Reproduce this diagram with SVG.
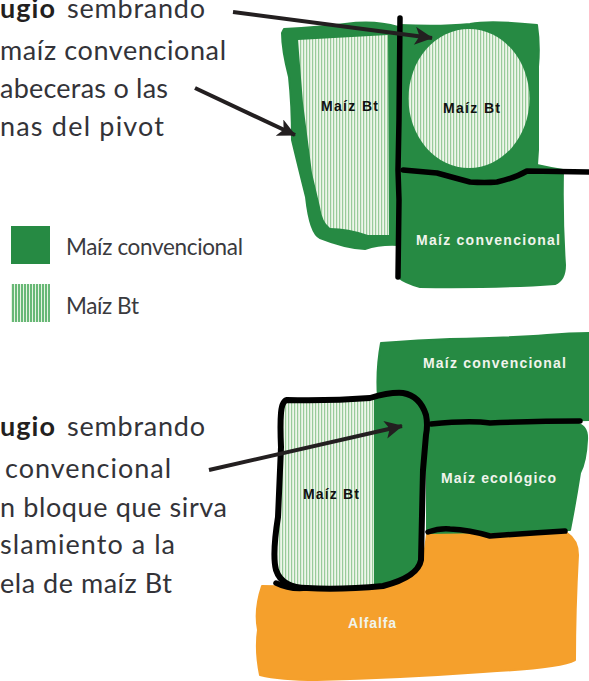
<svg xmlns="http://www.w3.org/2000/svg" width="589" height="681" viewBox="0 0 589 681">
<style>
.g{fill:#268a43;stroke:#268a43;stroke-width:2;stroke-linejoin:round}
.o{fill:#f5a02c;stroke:#f5a02c;stroke-width:2;stroke-linejoin:round}
.h{fill:url(#hatch)}
.k{fill:none;stroke:#000;stroke-linejoin:round;stroke-linecap:round}
.a{stroke:#231f20;stroke-width:4;fill:none;marker-end:url(#ah)}
.t{font-family:"Lato","Open Sans",sans-serif;font-size:27px;fill:#333338}
.l{font-family:"Lato","Open Sans",sans-serif;font-size:22.5px;fill:#3a3a3e}
.b{font-weight:700;fill:#231f20}
.w{font-family:"Liberation Sans",Arial,sans-serif;font-weight:700;font-size:14px;fill:#f0f4ec}
.d{font-family:"Liberation Sans",Arial,sans-serif;font-weight:700;font-size:14px;fill:#111}
</style>
<defs>
<pattern id="hatch" width="3" height="10" patternUnits="userSpaceOnUse"><rect width="3" height="10" fill="#eef6ea"/><rect width="1.2" height="10" fill="#98cb9a"/></pattern>
<pattern id="lhatch" width="3" height="10" patternUnits="userSpaceOnUse"><rect width="3" height="10" fill="#e6f3e2"/><rect width="2" height="10" fill="#68b877"/></pattern>
<marker id="ah" viewBox="0 0 10 10" refX="9.5" refY="5" markerUnits="userSpaceOnUse" markerWidth="22" markerHeight="18" orient="auto"><path d="M0 0L10 5L0 10L2.5 5Z" fill="#231f20"/></marker>
</defs>

<g id="top-text">
<text class="t" y="18"><tspan x="0" class="b" textLength="55">ugio</tspan><tspan x="67" textLength="138">sembrando</tspan></text>
<text class="t" x="0" y="60" textLength="226">maíz convencional</text>
<text class="t" x="0" y="98" textLength="168">abeceras o las</text>
<text class="t" x="0" y="136" textLength="164">nas del pivot</text>
</g>

<g id="legend">
<rect x="11" y="226" width="39" height="38" fill="#268a43"/>
<text class="l" x="66" y="255" textLength="177">Maíz convencional</text>
<rect x="11" y="284" width="39" height="38" fill="url(#lhatch)"/>
<text class="l" x="66" y="314" textLength="73">Maíz Bt</text>
</g>

<g id="bottom-text">
<text class="t" y="436"><tspan x="0" class="b" textLength="55">ugio</tspan><tspan x="67" textLength="138">sembrando</tspan></text>
<text class="t" x="5" y="478" textLength="166">convencional</text>
<text class="t" x="0" y="517" textLength="227">n bloque que sirva</text>
<text class="t" x="0" y="554" textLength="175">slamiento a la</text>
<text class="t" x="0" y="593" textLength="172">ela de maíz Bt</text>
</g>

<g id="field-top-left">
<path class="g" d="M284 29Q320 27 345 24Q375 20 398 27L398 245Q380 244 365 249Q345 248 320 238Q310 234 306 197Q298 165 292 140Q292 105 289 77Q282 50 282 33Z"/>
<path class="h" d="M298 40L388 35L389 235L368 235Q348 228 330 228Q322 222 320 207L312 173L303 103Z"/>
<text class="d" x="321" y="111" textLength="57">Maíz Bt</text>
</g>

<g id="field-top-right">
<path class="g" d="M400 25Q440 27 470 24Q490 20 537 25Q540 45 538 67Q538 120 538 150L537 165Q550 168 563 170Q562 220 565 265Q565 280 555 284Q500 288 420 287Q405 283 398 277Z"/>
<ellipse cx="469" cy="98.5" rx="60.5" ry="69.5" fill="url(#hatch)"/>
<text class="d" x="443" y="113" textLength="57">Maíz Bt</text>
<text class="w" x="416" y="245" textLength="144">Maíz convencional</text>
</g>

<g id="field-bottom-conv">
<path class="g" d="M381 343Q420 340 450 339Q510 338 547 335Q570 333 589 333L589 420L430 424L378 398Q376 370 381 343Z"/>
<text class="w" x="423" y="368" textLength="143">Maíz convencional</text>
</g>

<g id="field-bottom-eco">
<path class="g" d="M427 423L575 423Q588 425 587 440Q586 462 580 473Q575 505 570 530L427 534Z"/>
<text class="w" x="441" y="483" textLength="115">Maíz ecológico</text>
</g>

<g id="field-alfalfa">
<path class="o" d="M262 586L377 588L423 563L427 535L567 533Q578 540 578 555Q575 610 575 660Q560 668 483 672Q400 678 317 680Q280 680 260 675Q255 650 258 630Q254 610 262 586Z"/>
<text class="w" x="348" y="628" textLength="48">Alfalfa</text>
</g>

<g id="field-bottom-bt">
<path class="h" d="M282 402L375 398L375 587L290 587Q276 578 276 560Z"/>
<path class="g" d="M375 398Q390 394 405 394Q422 398 427 420L423 470L420 560Q415 578 375 586Z"/>
<text class="d" x="303" y="499" textLength="56">Maíz Bt</text>
</g>

<g id="connectors">
<path class="k" stroke-width="5.5" d="M400 18L399 120L398 170L399 200L398 277"/>
<path class="k" stroke-width="5.5" d="M403 170Q425 172 437 173Q455 178 470 182Q485 183 497 182Q515 178 527 171L589 172"/>
<path class="k" stroke-width="6" d="M287 400Q330 401 370 398Q390 392 403 393Q420 396 426 415Q428 425 426 435L423 470L421 560Q418 577 383 586Q340 590 307 588Q282 588 276 570Q272 555 278 517L281 447Q280 425 281 413Q282 401 287 400Z"/>
<path class="k" stroke-width="5.5" d="M431 424Q470 420 490 423Q540 421 580 421"/>
<path class="k" stroke-width="5.5" d="M428 532Q440 528 450 529Q470 530 490 536Q530 533 565 531"/>
<path class="k" stroke-width="5.5" d="M276 583Q290 590 307 588"/>
<path class="a" d="M233 12L432 38"/>
<path class="a" d="M195 88L295 135"/>
<path class="a" d="M209 470L402 426"/>
</g>
</svg>
